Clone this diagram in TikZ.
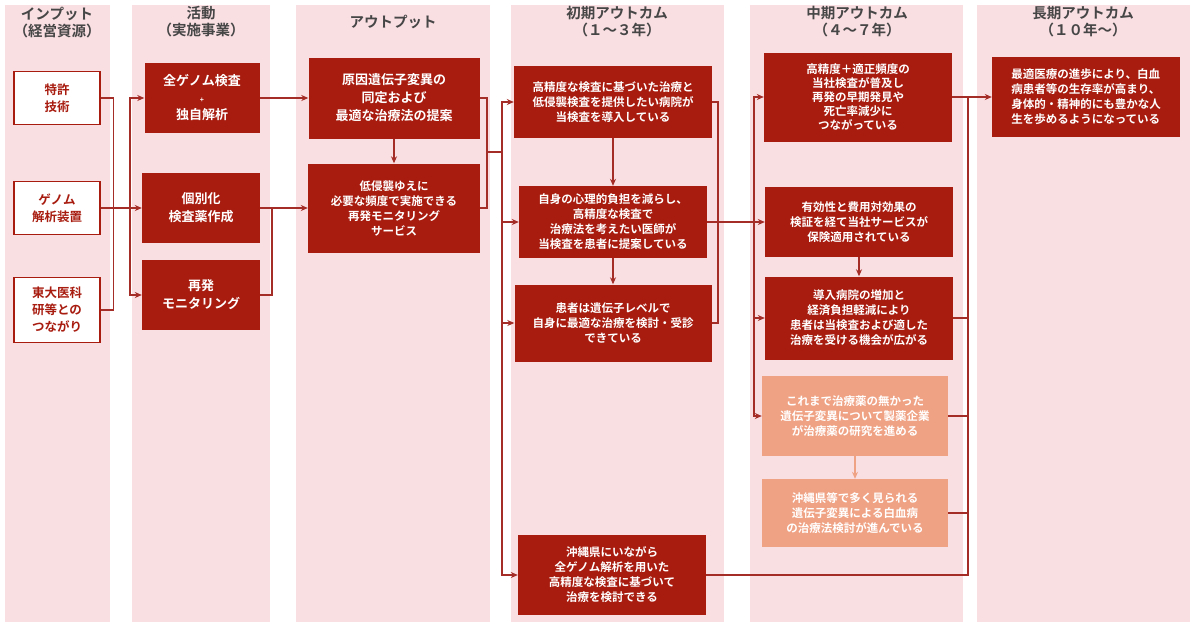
\documentclass[tikz,border=0pt]{standalone}
\usepackage{fontspec}
\setmainfont{Noto Sans CJK JP}[BoldFont={Noto Sans CJK JP Bold}]
\usetikzlibrary{arrows.meta}
\definecolor{colbg}{RGB}{249,222,226}
\definecolor{boxred}{RGB}{168,28,16}
\definecolor{boxsalmon}{RGB}{240,162,132}
\definecolor{linered}{RGB}{165,45,40}
\definecolor{headgray}{RGB}{70,70,70}
\tikzset{
  colpanel/.style={fill=colbg,draw=none},
  headtext/.style={font=\fontsize{14.5}{17}\selectfont\bfseries,text=headgray,align=center},
  redbox/.style={fill=boxred,text=white,inner sep=0pt,align=center,font=\fontsize{11.5}{15}\selectfont\bfseries},
  salmonbox/.style={redbox,fill=boxsalmon},
  inbox/.style={fill=white,draw=boxred,line width=1.3pt,text=boxred,inner sep=0pt,align=center,font=\fontsize{12.5}{17}\selectfont\bfseries},
  ln/.style={draw=linered,line width=1.2pt},
  arr/.style={ln,-{Stealth[length=7pt,width=6pt]}},
  salmonarr/.style={arr,draw=boxsalmon}
}
\begin{document}
\begin{tikzpicture}[x=1pt,y=-1pt]
\useasboundingbox (0,0) rectangle (1200,622);

% columns
\fill[colpanel] (5,5) rectangle (110,622);
\fill[colpanel] (132,5) rectangle (270,622);
\fill[colpanel] (296,5) rectangle (490,622);
\fill[colpanel] (511,5) rectangle (724,622);
\fill[colpanel] (750,5) rectangle (963,622);
\fill[colpanel] (977,5) rectangle (1190,622);

% headers
\node[headtext] (h1) at (57,23) {インプット\\（経営資源）};
\node[headtext] (h2) at (201,22) {活動\\（実施事業）};
\node[headtext] (h3) at (393,22) {アウトプット};
\node[headtext] (h4) at (617,22) {初期アウトカム\\（１～３年）};
\node[headtext] (h5) at (857,22) {中期アウトカム\\（４～７年）};
\node[headtext] (h6) at (1083,22) {長期アウトカム\\（１０年～）};

% inputs
\node[inbox,minimum width=86,minimum height=53] (in1) at (57,98) {特許\\技術};
\node[inbox,minimum width=86,minimum height=53] (in2) at (57,208) {ゲノム\\解析装置};
\node[inbox,minimum width=86,minimum height=65] (in3) at (57,310) {東大医科\\研等との\\つながり};

% activities
\node[redbox,minimum width=115,minimum height=70,font=\fontsize{13}{17}\selectfont\bfseries] (act1) at (202,98) {全ゲノム検査\\{\scriptsize +}\\独自解析};
\node[redbox,minimum width=118,minimum height=70,font=\fontsize{13}{18}\selectfont\bfseries] (act2) at (201,208) {個別化\\検査薬作成};
\node[redbox,minimum width=118,minimum height=70,font=\fontsize{13}{18}\selectfont\bfseries] (act3) at (201,295) {再発\\モニタリング};

% outputs
\node[redbox,minimum width=171,minimum height=81,font=\fontsize{13}{18}\selectfont\bfseries] (out1) at (394,98) {原因遺伝子変異の\\同定および\\最適な治療法の提案};
\node[redbox,minimum width=172,minimum height=89] (out2) at (394,208) {低侵襲ゆえに\\必要な頻度で実施できる\\再発モニタリング\\サービス};

% initial outcomes
\node[redbox,minimum width=198,minimum height=72] (i1) at (613,102) {高精度な検査に基づいた治療と\\低侵襲検査を提供したい病院が\\当検査を導入している};
\node[redbox,minimum width=188,minimum height=72] (i2) at (613,222) {自身の心理的負担を減らし、\\高精度な検査で\\治療法を考えたい医師が\\当検査を患者に提案している};
\node[redbox,minimum width=197,minimum height=77] (i3) at (613,323) {患者は遺伝子レベルで\\自身に最適な治療を検討・受診\\できている};
\node[redbox,minimum width=188,minimum height=80] (i4) at (612,575) {沖縄県にいながら\\全ゲノム解析を用いた\\高精度な検査に基づいて\\治療を検討できる};

% mid outcomes
\node[redbox,minimum width=188,minimum height=89,font=\fontsize{11.5}{14}\selectfont\bfseries] (m1) at (858,97) {高精度＋適正頻度の\\当社検査が普及し\\再発の早期発見や\\死亡率減少に\\つながっている};
\node[redbox,minimum width=188,minimum height=70] (m2) at (859,222) {有効性と費用対効果の\\検証を経て当社サービスが\\保険適用されている};
\node[redbox,minimum width=188,minimum height=83] (m3) at (859,318) {導入病院の増加と\\経済負担軽減により\\患者は当検査および適した\\治療を受ける機会が広がる};
\node[salmonbox,minimum width=186,minimum height=80] (m4) at (855,416) {これまで治療薬の無かった\\遺伝子変異について製薬企業\\が治療薬の研究を進める};
\node[salmonbox,minimum width=186,minimum height=68] (m5) at (855,513) {沖縄県等で多く見られる\\遺伝子変異による白血病\\の治療法検討が進んでいる};

% long outcome
\node[redbox,minimum width=188,minimum height=80,align=left] (lo) at (1086,97) {最適医療の進歩により、白血\\病患者等の生存率が高まり、\\身体的・精神的にも豊かな人\\生を歩めるようになっている};

% junctions
\coordinate (j1) at (130,208);
\coordinate (j2) at (272,208);
\coordinate (j3) at (487,152);
\coordinate (j4) at (502,152);
\coordinate (j5) at (718,222);
\coordinate (j6) at (754,222);
\coordinate (j7) at (968,97);

% inputs -> activities
\draw[ln] (in1.east) -- ++(13,0) |- (in3.east);
\draw[arr] (in2.east) -- (act2.west);
\draw[arr] (j1) |- (act1.west);
\draw[arr] (j1) |- (act3.west);

% activities -> outputs
\draw[arr] (act1.east) -- (out1.west);
\draw[arr] (act2.east) -- (out2.west);
\draw[ln] (act3.east) -| (j2);
\draw[arr] (out1.south) -- (out2.north);

% outputs -> initial
\draw[ln] (out1.east) -| (j3);
\draw[ln] (out2.east) -| (j3);
\draw[ln] (j3) -- (j4);
\foreach \t in {i1,i2,i3,i4}{\draw[arr] (j4) |- (\t.west);}
\draw[arr] (i1.south) -- (i2.north);
\draw[arr] (i2.south) -- (i3.north);

% initial -> mid
\draw[ln] (i1.east) -| (j5);
\draw[ln] (i3.east) -| (j5);
\draw[arr] (i2.east) -- (m2.west);
\foreach \t in {m1,m3,m4}{\draw[arr] (j6) |- (\t.west);}
\draw[arr] (m2.south) -- (m3.north);
\draw[salmonarr] (m4.south) -- (m5.north);

% mid -> long
\draw[arr] (m1.east) -- (lo.west);
\foreach \t in {m3,m4,m5,i4}{\draw[ln] (\t.east) -| (j7);}

\end{tikzpicture}
\end{document}
